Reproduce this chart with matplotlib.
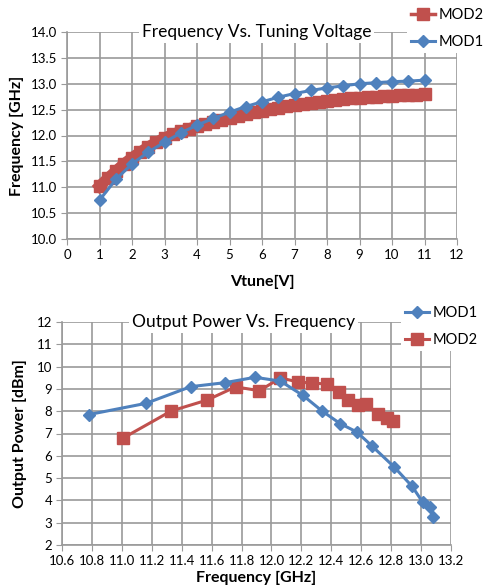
import matplotlib
matplotlib.use("Agg")
import matplotlib.pyplot as plt
import numpy as np

# top chart: frequency vs tuning voltage
vtune_mod1 = [1.0, 1.5, 2.0, 2.5, 3.0, 3.5, 4.0, 4.5, 5.0, 5.5, 6.0, 6.5, 7.0,
              7.5, 8.0, 8.5, 9.0, 9.5, 10.0, 10.5, 11.0]
freq_mod1 = [10.75, 11.15, 11.45, 11.68, 11.87, 12.05, 12.20, 12.33, 12.45, 12.56,
             12.65, 12.74, 12.81, 12.87, 12.92, 12.96, 13.00, 13.02, 13.04, 13.05, 13.07]

vtune_mod2 = [1.0, 1.25, 1.5, 1.75, 2.0, 2.25, 2.5, 2.75, 3.0, 3.25, 3.5, 3.75, 4.0,
              4.25, 4.5, 4.75, 5.0, 5.25, 5.5, 5.75, 6.0, 6.25, 6.5, 6.75, 7.0, 7.25,
              7.5, 7.75, 8.0, 8.25, 8.5, 8.75, 9.0, 9.25, 9.5, 9.75, 10.0, 10.25,
              10.5, 10.75, 11.0]
freq_mod2 = [11.02, 11.17, 11.31, 11.45, 11.57, 11.68, 11.78, 11.87, 11.95, 12.02,
             12.08, 12.13, 12.18, 12.22, 12.26, 12.30, 12.34, 12.38, 12.41, 12.45,
             12.48, 12.51, 12.54, 12.57, 12.59, 12.61, 12.63, 12.65, 12.67, 12.69,
             12.70, 12.72, 12.73, 12.74, 12.75, 12.76, 12.77, 12.78, 12.78, 12.79, 12.80]

# bottom chart: output power vs frequency
pf_mod1 = [10.78, 11.16, 11.46, 11.69, 11.89, 12.06, 12.21, 12.34, 12.46, 12.57,
           12.67, 12.82, 12.94, 13.01, 13.06, 13.08]
pw_mod1 = [7.85, 8.35, 9.10, 9.28, 9.52, 9.35, 8.71, 8.00, 7.44, 7.07,
           6.45, 5.50, 4.63, 3.93, 3.69, 3.25]

pf_mod2 = [11.01, 11.33, 11.57, 11.76, 11.92, 12.06, 12.18, 12.27, 12.37, 12.45,
           12.51, 12.58, 12.63, 12.71, 12.77, 12.81]
pw_mod2 = [6.80, 8.01, 8.50, 9.09, 8.92, 9.49, 9.31, 9.26, 9.22, 8.86,
           8.50, 8.28, 8.31, 7.87, 7.70, 7.56]

blue = "#4F81BD"
red = "#C0504D"
grid_c = "#9A9A9A"
font = ["Lato", "DejaVu Sans"]
plt.rcParams["font.family"] = font

W, H = 488, 587
fig = plt.figure(figsize=(W / 100, H / 100), dpi=100, facecolor="w")


def px_axes(left, top, right, bottom):
    return fig.add_axes([left / W, 1 - bottom / H, (right - left) / W, (bottom - top) / H])


def style(ax):
    for s in ["top", "right"]:
        ax.spines[s].set_visible(False)
    for s in ["left", "bottom"]:
        ax.spines[s].set_color(grid_c)
        ax.spines[s].set_linewidth(1.2)
    ax.grid(True, color=grid_c, linewidth=1.2, zorder=0)
    ax.set_axisbelow(True)
    ax.tick_params(direction="out", length=4, color=grid_c, labelsize=9.5, pad=3)


leg_kw = dict(frameon=True, facecolor="w", edgecolor="none", framealpha=1, fontsize=10.5,
              handlelength=1.6, borderpad=0.3, labelspacing=0.85, handletextpad=0.3,
              borderaxespad=0, fancybox=False, bbox_transform=fig.transFigure,
              loc="upper left")

# --- top ---
ax1 = px_axes(67, 32, 457, 239)
ax1.plot(vtune_mod2, freq_mod2, color=red, lw=8, marker="s", ms=8, mec=red,
         label="MOD2", zorder=3)
ax1.plot(vtune_mod1, freq_mod1, color=blue, lw=2.2, marker="D", ms=6, mec=blue,
         label="MOD1", zorder=4)
ax1.set_xlim(0, 12)
ax1.set_ylim(10, 14)
ax1.set_xticks(np.arange(0, 13, 1))
ax1.set_yticks(np.arange(10, 14.01, 0.5))
ax1.set_yticklabels([f"{v:.1f}" for v in np.arange(10, 14.01, 0.5)])
style(ax1)
ax1.set_xlabel("Vtune[V]", fontsize=11.5, fontweight="bold", labelpad=10)
ax1.set_ylabel("Frequency [GHz]", fontsize=11.5, fontweight="bold", labelpad=5)
ax1.text(0.487, 1.0, "Frequency Vs. Tuning Voltage", transform=ax1.transAxes,
         ha="center", va="center", fontsize=12.5,
         bbox=dict(facecolor="w", edgecolor="none", pad=2), zorder=10)
h, l = ax1.get_legend_handles_labels()
leg1 = ax1.legend(h, l, bbox_to_anchor=(407 / W, 1 - 4 / H), **leg_kw)
leg1.get_lines()[0].set_linewidth(2.5)
leg1.get_lines()[0].set_markersize(9)

# --- bottom ---
ax2 = px_axes(62, 322, 451, 545)
ax2.plot(pf_mod1, pw_mod1, color=blue, lw=2.2, marker="D", ms=6, mec=blue,
         label="MOD1", zorder=4)
ax2.plot(pf_mod2, pw_mod2, color=red, lw=2.2, marker="s", ms=8, mec=red,
         label="MOD2", zorder=3)
ax2.set_xlim(10.6, 13.2)
ax2.set_ylim(2, 12)
xt = np.arange(10.6, 13.21, 0.2)
ax2.set_xticks(xt)
ax2.set_xticklabels([f"{v:.1f}" for v in xt])
ax2.set_yticks(np.arange(2, 13, 1))
style(ax2)
ax2.set_xlabel("Frequency [GHz]", fontsize=11.5, fontweight="bold", labelpad=3)
ax2.set_ylabel("Output Power [dBm]", fontsize=11.5, fontweight="bold", labelpad=7)
ax2.text(0.467, 1.0, "Output Power Vs. Frequency", transform=ax2.transAxes,
         ha="center", va="center", fontsize=12.5,
         bbox=dict(facecolor="w", edgecolor="none", pad=2), zorder=10)
ax2.legend(bbox_to_anchor=(401 / W, 1 - 302 / H), **leg_kw)

fig.savefig("out.png", dpi=100, facecolor="w")
